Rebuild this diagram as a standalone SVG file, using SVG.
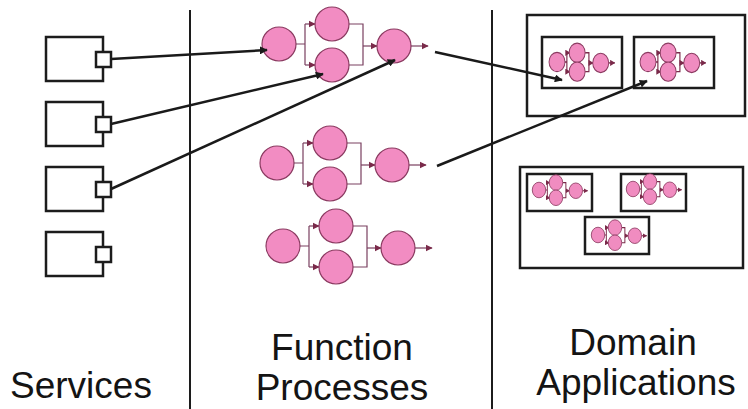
<svg xmlns="http://www.w3.org/2000/svg" xmlns:xlink="http://www.w3.org/1999/xlink" width="748" height="409" viewBox="0 0 748 409">
  <style>
    .frame { fill: none; stroke: #1c1c1c; stroke-width: 2.5; }
    .svc { fill: #ffffff; stroke: #1c1c1c; stroke-width: 2.5; }
    .divider { stroke: #1c1c1c; stroke-width: 2; }
    .link { fill: none; stroke: #1a1a1a; stroke-width: 2.5; marker-end: url(#tip); }
    .node { fill: #f28cc2; stroke: #8a3a60; stroke-width: 1.2; }
    .mnode { fill: #f08cc0; stroke: #8a3a60; stroke-width: 2.4; }
    .flow { fill: none; stroke: #7a4060; stroke-width: 1.2; }
    .mflow { fill: none; stroke: #7a2a4a; stroke-width: 3; }
    .flowArrow { fill: none; stroke: #7a4060; stroke-width: 1.2; marker-end: url(#ftip); }
    .mflowArrow { fill: none; stroke: #7a2a4a; stroke-width: 3; marker-end: url(#mtip); }
    .label { font-family: "Liberation Sans", Arial, sans-serif; font-size: 37px; fill: #141414; text-anchor: middle; }
  </style>
  <defs>
    <marker id="tip" viewBox="0 0 10 10" refX="9" refY="5" markerWidth="3.2" markerHeight="3.2" orient="auto" markerUnits="strokeWidth">
      <path d="M0,0 L10,5 L0,10 z" fill="#1a1a1a"/>
    </marker>
    <marker id="ftip" viewBox="0 0 10 10" refX="9" refY="5" markerWidth="6" markerHeight="6" orient="auto" markerUnits="strokeWidth">
      <path d="M0,0 L10,5 L0,10 z" fill="#7a2a4a"/>
    </marker>
    <marker id="mtip" viewBox="0 0 10 10" refX="9" refY="5" markerWidth="4.5" markerHeight="4.5" orient="auto" markerUnits="strokeWidth">
      <path d="M0,0 L10,5 L0,10 z" fill="#7a2a4a"/>
    </marker>
    <!-- split / join process: one step, two parallel steps, one step -->
    <g id="proc">
      <path class="flow" d="M17,0 H26 M26,-20 V21 M70,-20 H84 V21 H70"/>
      <path class="flowArrow" d="M26,-20 H36"/>
      <path class="flowArrow" d="M26,21 H36"/>
      <path class="flowArrow" d="M84,2 H98"/>
      <path class="flowArrow" d="M132,2 H149"/>
      <circle class="node" cx="0" cy="0" r="17"/>
      <circle class="node" cx="53" cy="-20" r="17"/>
      <circle class="node" cx="53" cy="21" r="17"/>
      <circle class="node" cx="115" cy="2" r="17"/>
    </g>
    <!-- the same process drawn as a small icon, with fuller nodes -->
    <g id="miniProc">
      <path class="mflow" d="M20,0 H26 M26,-20 V21 M74,-20 H84 V21 H74"/>
      <path class="mflowArrow" d="M26,-20 H34"/>
      <path class="mflowArrow" d="M26,21 H34"/>
      <path class="mflowArrow" d="M84,2 H95"/>
      <path class="mflowArrow" d="M136,2 H152"/>
      <circle class="mnode" cx="0" cy="0" r="21"/>
      <circle class="mnode" cx="53" cy="-20" r="21"/>
      <circle class="mnode" cx="53" cy="21" r="21"/>
      <circle class="mnode" cx="115" cy="2" r="21"/>
    </g>
  </defs>

  <rect width="748" height="409" fill="#ffffff"/>

  <!-- column dividers -->
  <g id="dividers">
    <line class="divider" x1="190" y1="10" x2="190" y2="409"/>
    <line class="divider" x1="492" y1="10" x2="492" y2="409"/>
  </g>

  <!-- services -->
  <g id="service-1">
    <rect class="svc" x="46" y="37" width="57" height="44"/>
    <rect class="svc" x="96" y="52" width="15" height="15"/>
  </g>
  <g id="service-2">
    <rect class="svc" x="46" y="102" width="57" height="44"/>
    <rect class="svc" x="96" y="117" width="15" height="15"/>
  </g>
  <g id="service-3">
    <rect class="svc" x="46" y="167" width="57" height="44"/>
    <rect class="svc" x="96" y="182" width="15" height="15"/>
  </g>
  <g id="service-4">
    <rect class="svc" x="46" y="232" width="57" height="44"/>
    <rect class="svc" x="96" y="247" width="15" height="15"/>
  </g>

  <!-- function processes -->
  <g id="process-1"><use xlink:href="#proc" href="#proc" transform="translate(279,44)"/></g>
  <g id="process-2"><use xlink:href="#proc" href="#proc" transform="translate(277,163)"/></g>
  <g id="process-3"><use xlink:href="#proc" href="#proc" transform="translate(283,246)"/></g>

  <!-- domain applications -->
  <g id="domain-1">
    <rect class="frame" x="527" y="15" width="218" height="101"/>
    <g id="app-1a">
      <rect class="frame" x="542" y="37" width="80" height="51"/>
      <use xlink:href="#miniProc" href="#miniProc" transform="translate(557,62) scale(0.38,0.46)"/>
    </g>
    <g id="app-1b">
      <rect class="frame" x="634" y="37" width="80" height="51"/>
      <use xlink:href="#miniProc" href="#miniProc" transform="translate(648,62) scale(0.38,0.46)"/>
    </g>
  </g>
  <g id="domain-2">
    <rect class="frame" x="520" y="167" width="223" height="101"/>
    <g id="app-2a">
      <rect class="frame" x="527" y="174" width="65" height="37"/>
      <use xlink:href="#miniProc" href="#miniProc" transform="translate(539,190) scale(0.32,0.37)"/>
    </g>
    <g id="app-2b">
      <rect class="frame" x="621" y="174" width="65" height="37"/>
      <use xlink:href="#miniProc" href="#miniProc" transform="translate(633,189) scale(0.32,0.37)"/>
    </g>
    <g id="app-2c">
      <rect class="frame" x="585" y="217" width="64" height="37"/>
      <use xlink:href="#miniProc" href="#miniProc" transform="translate(598,235) scale(0.32,0.37)"/>
    </g>
  </g>

  <!-- connectors -->
  <g id="connectors">
    <line class="link" x1="111" y1="59" x2="267" y2="50"/>
    <line class="link" x1="111" y1="124" x2="323" y2="74"/>
    <line class="link" x1="111" y1="189" x2="395" y2="60"/>
    <line class="link" x1="435" y1="52" x2="562" y2="80"/>
    <line class="link" x1="437" y1="166" x2="647" y2="81"/>
  </g>

  <!-- column titles -->
  <g id="titles">
    <text class="label" x="81" y="398">Services</text>
    <text class="label" x="342" y="360">Function</text>
    <text class="label" x="342" y="400">Processes</text>
    <text class="label" x="633" y="355">Domain</text>
    <text class="label" x="636" y="395">Applications</text>
  </g>
</svg>
